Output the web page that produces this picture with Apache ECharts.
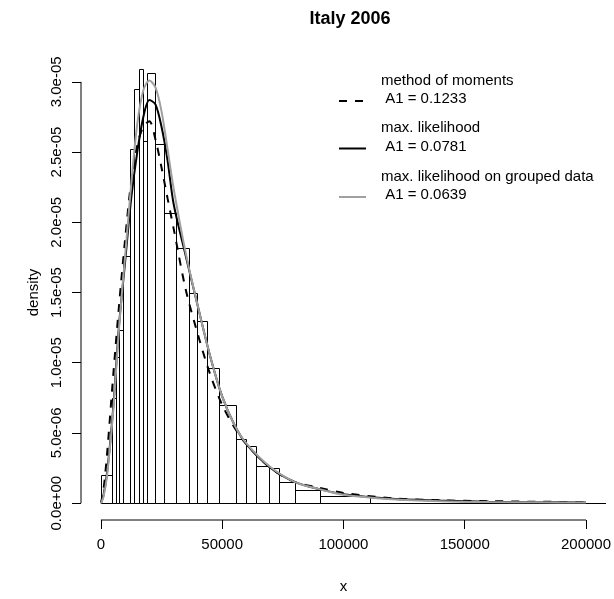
<!DOCTYPE html>
<html>
<head>
<meta charset="utf-8">
<script src="https://cdn.jsdelivr.net/npm/echarts@6/dist/echarts.min.js"></script>
<style>
html,body{margin:0;padding:0;background:#fff;}
#chart{width:614px;height:599px;}
</style>
</head>
<body>
<div id="chart"></div>
<script>
// ---- data ----
const binEdges = [0, 4700, 6150, 7600, 9000, 11900, 13650, 15550, 17200, 19150, 22350, 26100, 31000, 36450, 39750, 43550, 48750, 55850, 59950, 63800, 69450, 73350, 79900, 90150, 110950, 208200];
const binDensity = [1.98e-6, 7.5e-6, 1.04e-5, 1.23e-5, 1.76e-5, 2.52e-5, 2.95e-5, 3.09e-5, 2.58e-5, 3.06e-5, 2.555e-5, 2.065e-5, 1.82e-5, 1.50e-5, 1.30e-5, 9.65e-6, 6.97e-6, 4.55e-6, 4.07e-6, 2.68e-6, 2.47e-6, 1.48e-6, 0.97e-6, 0.52e-6, 0.04e-6];

const curveX = [0, 1000, 2500, 5000, 7500, 10000, 12500, 15000, 17500, 20000, 22500, 25000, 27500, 30000, 35000, 40000, 45000, 50000, 55000, 60000, 70000, 80000, 90000, 100000, 120000, 140000, 160000, 180000, 200000];
const momDensity = [0, 8.5e-7, 3.4e-6, 8.9e-6, 1.41e-5, 1.88e-5, 2.29e-5, 2.55e-5, 2.68e-5, 2.72e-5, 2.59e-5, 2.39e-5, 2.17e-5, 1.955e-5, 1.52e-5, 1.2e-5, 9.2e-6, 7.0e-6, 5.4e-6, 4.2e-6, 2.5e-6, 1.5e-6, 1.1e-6, 7.3e-7, 3.5e-7, 2.0e-7, 1.4e-7, 1.0e-7, 7e-8];
const mlDensity = [0, 5e-7, 2.1e-6, 6.6e-6, 1.27e-5, 1.72e-5, 2.17e-5, 2.5e-5, 2.75e-5, 2.87e-5, 2.84e-5, 2.68e-5, 2.44e-5, 2.13e-5, 1.76e-5, 1.40e-5, 1.05e-5, 7.6e-6, 5.6e-6, 4.2e-6, 2.5e-6, 1.5e-6, 1.0e-6, 6.4e-7, 3.2e-7, 1.8e-7, 1.0e-7, 7e-8, 5e-8];
const mlGroupedDensity = [0, 4e-7, 1.9e-6, 6.4e-6, 1.25e-5, 1.76e-5, 2.27e-5, 2.7e-5, 2.94e-5, 3.01e-5, 2.96e-5, 2.79e-5, 2.52e-5, 2.24e-5, 1.78e-5, 1.4e-5, 1.05e-5, 7.6e-6, 5.6e-6, 4.25e-6, 2.55e-6, 1.5e-6, 1.0e-6, 6e-7, 2.8e-7, 1.4e-7, 8e-8, 6e-8, 4e-8];

const xTicks = [0, 50000, 100000, 150000, 200000];
const xTickLabels = ['0', '50000', '100000', '150000', '200000'];
const yTicks = [0, 5e-6, 1e-5, 1.5e-5, 2e-5, 2.5e-5, 3e-5];
const yTickLabels = ['0.0e+00', '5.0e-06', '1.0e-05', '1.5e-05', '2.0e-05', '2.5e-05', '3.0e-05'];

const legendNames = ['method of moments', 'max. likelihood', 'max. likelihood on grouped data'];
const legendValues = [' A1 = 0.1233', ' A1 = 0.0781', ' A1 = 0.0639'];

// ---- layout ----
const FONT = 'Liberation Sans, Arial, Helvetica, sans-serif';
const X_MIN = -8197, X_MAX = 208197;
const Y_MIN = -1.2e-6, Y_MAX = 3.12e-5;

function labelFor(ticks, labels) {
  return function (v) {
    let best = 0, bd = Infinity;
    for (let i = 0; i < ticks.length; i++) {
      const d = Math.abs(ticks[i] - v);
      if (d < bd) { bd = d; best = i; }
    }
    return labels[best];
  };
}

const histData = binDensity.map((d, i) => [binEdges[i], binEdges[i + 1], d]);
const pairs = (ys) => curveX.map((x, i) => [x, ys[i]]);

const chart = echarts.init(document.getElementById('chart'), null, { renderer: 'canvas' });

const legendGraphics = [];
const legendStyles = [
  { stroke: '#000', lineWidth: 2, lineDash: [8, 8] },
  { stroke: '#000', lineWidth: 2 },
  { stroke: '#a0a0a0', lineWidth: 2 }
];
const legendRowY = [82, 129.5, 178];
for (let i = 0; i < 3; i++) {
  legendGraphics.push({
    type: 'text', left: 381, top: legendRowY[i] - 9,
    style: { text: legendNames[i], font: '15px ' + FONT, fill: '#000' }
  });
  legendGraphics.push({
    type: 'text', left: 381, top: legendRowY[i] + 9.5,
    style: { text: legendValues[i], font: '15px ' + FONT, fill: '#000' }
  });
  legendGraphics.push({
    type: 'line',
    shape: { x1: 339, y1: legendRowY[i] + 19, x2: 366, y2: legendRowY[i] + 19 },
    style: legendStyles[i]
  });
}

const option = {
  animation: false,
  backgroundColor: '#fff',
  title: {
    text: 'Italy 2006', left: 345, top: 5, textAlign: 'center',
    textStyle: { fontFamily: FONT, fontSize: 18, fontWeight: 'bold', color: '#000' }
  },
  grid: { left: 81, right: 5, top: 65, bottom: 75, containLabel: false },
  xAxis: {
    type: 'value', min: X_MIN, max: X_MAX,
    name: 'x', nameLocation: 'middle', nameGap: 59,
    nameTextStyle: { fontFamily: FONT, fontSize: 15, color: '#000' },
    axisLine: { show: false, onZero: false },
    splitLine: { show: false },
    axisTick: { show: true, length: 9, inside: false, customValues: xTicks, lineStyle: { color: '#000', width: 1 } },
    axisLabel: { show: true, customValues: xTicks, margin: 17, fontFamily: FONT, fontSize: 15, color: '#000', formatter: labelFor(xTicks, xTickLabels) }
  },
  yAxis: {
    type: 'value', min: Y_MIN, max: Y_MAX,
    name: 'density', nameLocation: 'middle', nameGap: 40, nameRotate: 90,
    nameTextStyle: { fontFamily: FONT, fontSize: 15, color: '#000' },
    axisLine: { show: false, onZero: false },
    splitLine: { show: false },
    axisTick: { show: true, length: 9, inside: false, customValues: yTicks, lineStyle: { color: '#000', width: 1 } },
    axisLabel: { show: true, customValues: yTicks, rotate: 90, margin: 17, fontFamily: FONT, fontSize: 15, color: '#000', formatter: labelFor(yTicks, yTickLabels) }
  },
  graphic: legendGraphics,
  series: [
    {
      type: 'custom', name: 'histogram', silent: true, clip: true,
      data: histData,
      renderItem: function (params, api) {
        const p0 = api.coord([api.value(0), 0]);
        const p1 = api.coord([api.value(1), api.value(2)]);
        const x0 = Math.round(p0[0]) + 0.5, x1 = Math.round(p1[0]) + 0.5;
        const y0 = Math.round(p0[1]) + 0.5, y1 = Math.round(p1[1]) + 0.5;
        return {
          type: 'rect',
          shape: { x: x0, y: y1, width: x1 - x0, height: y0 - y1 },
          style: { fill: 'none', stroke: '#000', lineWidth: 1 }
        };
      }
    },
    {
      type: 'line', name: legendNames[0], data: pairs(momDensity), showSymbol: false, symbol: 'none',
      smooth: 0.3, lineStyle: { color: '#000', width: 2, type: [8, 8] }, silent: true
    },
    {
      type: 'line', name: legendNames[1], data: pairs(mlDensity), showSymbol: false, symbol: 'none',
      smooth: 0.3, lineStyle: { color: '#000', width: 2 }, silent: true
    },
    {
      type: 'line', name: legendNames[2], data: pairs(mlGroupedDensity), showSymbol: false, symbol: 'none',
      smooth: 0.3, lineStyle: { color: '#a0a0a0', width: 2 }, silent: true
    },
    {
      type: 'line', name: 'x axis line', data: [[xTicks[0], Y_MIN], [xTicks[xTicks.length - 1], Y_MIN]],
      symbol: 'none', clip: false, silent: true, lineStyle: { color: '#000', width: 1 }
    },
    {
      type: 'line', name: 'y axis line', data: [[X_MIN, yTicks[0]], [X_MIN, yTicks[yTicks.length - 1]]],
      symbol: 'none', clip: false, silent: true, lineStyle: { color: '#000', width: 1 }
    }
  ]
};
chart.setOption(option);
</script>
</body>
</html>
